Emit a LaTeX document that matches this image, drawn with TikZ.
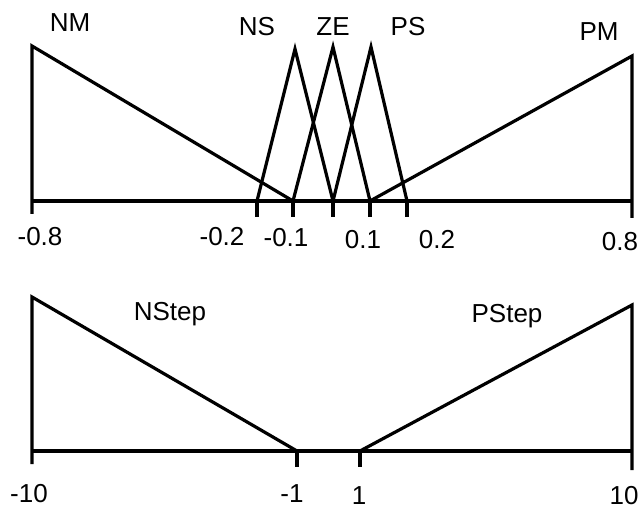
\documentclass[tikz,border=0pt]{standalone}
\usepackage{fontspec}
\setmainfont{Liberation Sans}

\begin{document}
\begin{tikzpicture}[x=0.75pt,y=-0.75pt,line width=2.4pt,
    lbl/.style={inner sep=0pt,font=\fontsize{19.5}{21}\selectfont}]
\useasboundingbox (0,0) rectangle (641,509);
% upper set
\draw (32,214) -- (32,46) -- (293,201);
\draw (632,218) -- (632,56) -- (370,201);
\draw (32,201) -- (632,201);
\draw (257,201) -- (295,49) -- (333,201);
\draw (293,201) -- (333,47) -- (370,201);
\draw (333,201) -- (371,47) -- (407,201);
\foreach \x in {257,293,333,370,407}
    \draw (\x,201) -- (\x,217);
\node[lbl] (nm) at (70,23) {NM};
\node[lbl] (ns) at (257,27) {NS};
\node[lbl] (ze) at (333,27) {ZE};
\node[lbl] (ps) at (408,27) {PS};
\node[lbl] (pm) at (599,32) {PM};
\node[lbl] (ta) at (40,237) {-0.8};
\node[lbl] (tb) at (222,237) {-0.2};
\node[lbl] (tc) at (286,238) {-0.1};
\node[lbl] (td) at (363,240) {0.1};
\node[lbl] (te) at (437,240) {0.2};
\node[lbl] (tf) at (620,242) {0.8};
% lower set
\draw (32,464) -- (32,297) -- (297,451);
\draw (632,470) -- (632,305) -- (360,451);
\draw (32,451) -- (632,451);
\foreach \x in {297,360}
    \draw (\x,451) -- (\x,467);
\node[lbl] (nstep) at (170,314) {NStep};
\node[lbl] (pstep) at (507,316) {PStep};
\node[lbl] (ua) at (29,494) {-10};
\node[lbl] (ub) at (292,494) {-1};
\node[lbl] (uc) at (359,496) {1};
\node[lbl] (ud) at (624,496) {10};
\end{tikzpicture}
\end{document}
